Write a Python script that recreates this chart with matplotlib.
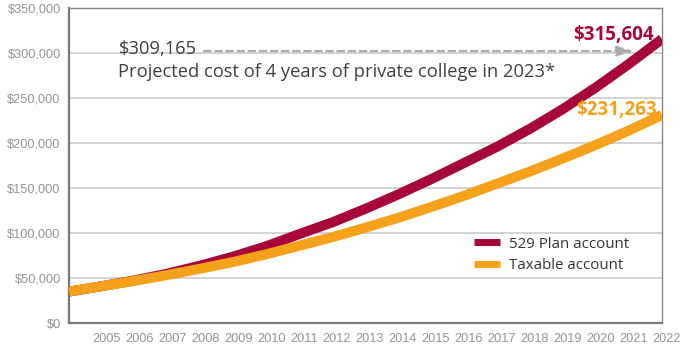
import matplotlib.pyplot as plt
import matplotlib.transforms as mtransforms
from matplotlib.ticker import FuncFormatter

# years and balances
years = list(range(2004, 2023))
plan_529 = [35000, 41000, 47500, 55000, 64000, 74000, 85500, 99000, 112000, 127000,
            143000, 160000, 178000, 196000, 216000, 238000, 262000, 288000, 315604]
taxable = [35000, 41000, 47000, 53500, 60500, 68000, 76500, 86000, 95500, 106000,
           117000, 129000, 141500, 155000, 168500, 183000, 198000, 214000, 231263]

college_cost = 309165
y_ticks = [0, 50000, 100000, 150000, 200000, 250000, 300000, 350000]
x_ticks = list(range(2005, 2023))

red = "#A8073A"
orange = "#F5A11C"
tick_font = ["Liberation Sans", "DejaVu Sans"]
text_font = ["Open Sans", "DejaVu Sans"]

fig = plt.figure(figsize=(6.8, 3.5), dpi=100)
ax = fig.add_axes([0.1015, 0.077, 0.872, 0.9])

ax.plot(years, plan_529, color=red, linewidth=7.2, solid_capstyle="butt", label="529 Plan account", zorder=3)
ax.plot(years, taxable, color=orange, linewidth=7.2, solid_capstyle="butt", label="Taxable account", zorder=4)

ax.set_xlim(2004, 2022)
ax.set_ylim(0, 350000)
ax.set_yticks(y_ticks)
ax.set_xticks(x_ticks)
ax.yaxis.set_major_formatter(FuncFormatter(lambda v, p: f"${v:,.0f}"))
ax.tick_params(length=0, colors="#939393", labelsize=9.2)
ax.tick_params(axis="y", pad=6)
ax.tick_params(axis="x", pad=7)
for lab in ax.get_xticklabels() + ax.get_yticklabels():
    lab.set_family(tick_font)
# year labels sit a little right of their ticks in the original
offset = mtransforms.ScaledTranslation(0.045, 0, fig.dpi_scale_trans)
for lab in ax.get_xticklabels():
    lab.set_transform(lab.get_transform() + offset)

ax.grid(axis="y", color="#cccccc", linewidth=1.2)
ax.set_axisbelow(True)
for side in ["left", "bottom"]:
    ax.spines[side].set_color("#777777")
    ax.spines[side].set_linewidth(1.6)
for side in ["top", "right"]:
    ax.spines[side].set_color("#888888")
    ax.spines[side].set_linewidth(1.0)

# projected college cost annotation
ax.annotate("", xy=(2021.15, college_cost - 7000), xytext=(2008.1, college_cost - 7000),
            arrowprops=dict(arrowstyle="-|>,head_length=1.0,head_width=0.3", color="#aaaaaa",
                            linestyle=(0, (3, 2)), linewidth=1.6, shrinkA=0, shrinkB=0))
ax.text(2005.5, college_cost - 10000, f"${college_cost:,}", ha="left", va="baseline",
        fontsize=13.2, color="#404040", family=text_font)
ax.text(2005.5, college_cost - 36000, "Projected cost of 4 years of private college in 2023*",
        ha="left", va="baseline", fontsize=13.2, color="#404040", family=text_font)

ax.text(2021.75, plan_529[-1] - 1500, f"${plan_529[-1]:,}", ha="right", va="baseline",
        fontsize=13.5, fontweight="bold", color=red, family=text_font)
ax.text(2021.85, taxable[-1], f"${taxable[-1]:,}", ha="right", va="baseline",
        fontsize=13.5, fontweight="bold", color=orange, family=text_font)

leg = ax.legend(loc="lower left", bbox_to_anchor=(0.66, 0.115), frameon=False, handlelength=1.75,
                handletextpad=0.6, labelspacing=0.45, prop={"family": text_font, "size": 10.8})
for line in leg.get_lines():
    line.set_linewidth(5)
for t in leg.get_texts():
    t.set_color("#333333")

fig.savefig("out.png", dpi=100)
